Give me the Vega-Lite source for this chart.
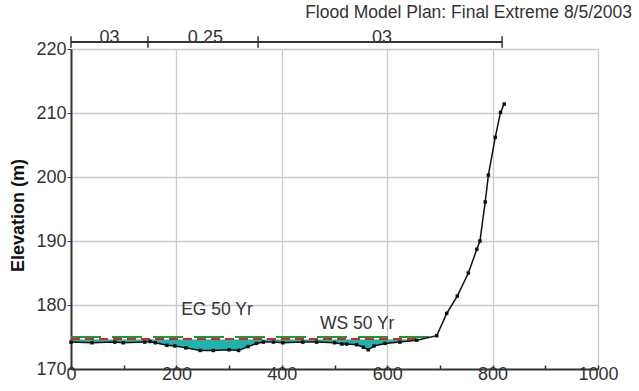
{
  "$schema": "https://vega.github.io/schema/vega-lite/v6.json",
  "width": 527,
  "height": 320,
  "autosize": "none",
  "padding": {"left": 71, "top": 49, "right": 41, "bottom": 22},
  "background": "white",
  "config": {
    "font": "Liberation Sans",
    "view": {"stroke": null}
  },
  "title": {
    "text": "Flood Model Plan: Final Extreme 8/5/2003",
    "anchor": "end",
    "frame": "group",
    "fontSize": 17.5,
    "fontWeight": "normal",
    "color": "#333333",
    "font": "Liberation Sans",
    "dx": 34,
    "offset": 8
  },
  "datasets": {
    "ground": [
      {"x": 0, "y": 174.2, "ws": 174.6},
      {"x": 40, "y": 174.1, "ws": 174.6},
      {"x": 83, "y": 174.2, "ws": 174.6},
      {"x": 99, "y": 174.1, "ws": 174.6},
      {"x": 140, "y": 174.2, "ws": 174.6},
      {"x": 150, "y": 174.3, "ws": 174.6},
      {"x": 160, "y": 174.1, "ws": 174.6},
      {"x": 182, "y": 173.7, "ws": 174.6},
      {"x": 197, "y": 173.6, "ws": 174.6},
      {"x": 218, "y": 173.3, "ws": 174.6},
      {"x": 245, "y": 172.9, "ws": 174.6},
      {"x": 270, "y": 172.9, "ws": 174.6},
      {"x": 300, "y": 173.0, "ws": 174.6},
      {"x": 318, "y": 172.9, "ws": 174.6},
      {"x": 336, "y": 173.5, "ws": 174.6},
      {"x": 352, "y": 174.0, "ws": 174.6},
      {"x": 365, "y": 174.2, "ws": 174.6},
      {"x": 384, "y": 174.2, "ws": 174.6},
      {"x": 402, "y": 174.1, "ws": 174.6},
      {"x": 440, "y": 174.2, "ws": 174.6},
      {"x": 466, "y": 174.2, "ws": 174.6},
      {"x": 500, "y": 174.1, "ws": 174.6},
      {"x": 514, "y": 173.9, "ws": 174.6},
      {"x": 523, "y": 173.9, "ws": 174.6},
      {"x": 542, "y": 173.8, "ws": 174.6},
      {"x": 555, "y": 173.4, "ws": 174.6},
      {"x": 564, "y": 173.0, "ws": 174.6},
      {"x": 575, "y": 173.6, "ws": 174.6},
      {"x": 596, "y": 174.0, "ws": 174.6},
      {"x": 624, "y": 174.2, "ws": 174.6},
      {"x": 656, "y": 174.5, "ws": 174.6},
      {"x": 694, "y": 175.2},
      {"x": 713, "y": 178.7},
      {"x": 733, "y": 181.4},
      {"x": 754, "y": 185.0},
      {"x": 770, "y": 188.7},
      {"x": 776, "y": 190.0},
      {"x": 786, "y": 196.1},
      {"x": 792, "y": 200.3},
      {"x": 805, "y": 206.2},
      {"x": 815, "y": 210.1},
      {"x": 822, "y": 211.4}
    ],
    "eg": [{"x": 0, "y": 175.0}, {"x": 690, "y": 175.0}],
    "wsl": [{"x": 0, "y": 174.7}, {"x": 660, "y": 174.7}],
    "nline": [{"x": 0, "x2": 818, "y": 221.1}],
    "nticks": [
      {"x": 0, "y": 220.2, "y2": 222.0},
      {"x": 146, "y": 220.2, "y2": 222.0},
      {"x": 355, "y": 220.2, "y2": 222.0},
      {"x": 818, "y": 220.2, "y2": 222.0}
    ],
    "nlabels": [
      {"x": 73, "y": 221.7, "label": "03"},
      {"x": 255, "y": 221.7, "label": "0.25"},
      {"x": 590, "y": 221.7, "label": "03"}
    ],
    "notes": [
      {"x": 277, "y": 179.2, "label": "EG 50 Yr"},
      {"x": 543, "y": 177.1, "label": "WS 50 Yr"}
    ]
  },
  "encoding": {
    "x": {
      "field": "x",
      "type": "quantitative",
      "scale": {"domain": [0, 1000], "nice": false, "zero": false},
      "axis": {
        "title": null,
        "values": [0, 100, 200, 300, 400, 500, 600, 700, 800, 900, 1000],
        "labelExpr": "datum.value % 200 == 0 ? datum.label : ''",
        "format": "d",
        "labelFontSize": 18,
        "labelColor": "#333333",
        "labelPadding": 0,
        "labelFlush": false,
        "tickSize": -4,
        "tickColor": "#333333",
        "tickWidth": 1.5,
        "domainColor": "#333333",
        "domainWidth": 2,
        "grid": true,
        "gridColor": "#c7cad2",
        "gridWidth": 1.3,
        "gridOpacity": {"condition": {"test": "datum.value % 200 != 0 || datum.value == 0", "value": 0}, "value": 1}
      }
    },
    "y": {
      "field": "y",
      "type": "quantitative",
      "scale": {"domain": [170, 220], "nice": false, "zero": false},
      "axis": {
        "title": "Elevation (m)",
        "titleFontSize": 18,
        "titleFontWeight": "bold",
        "titleColor": "#111111",
        "titlePadding": 8,
        "titleY": 166,
        "values": [170, 180, 190, 200, 210, 220],
        "labelFontSize": 18,
        "labelColor": "#333333",
        "labelPadding": 1,
        "labelFlush": false,
        "tickSize": 4,
        "tickColor": "#333333",
        "domainColor": "#333333",
        "domainWidth": 2,
        "grid": true,
        "gridColor": "#c7cad2",
        "gridWidth": 1.3,
        "gridOpacity": {"condition": {"test": "datum.value == 170", "value": 0}, "value": 1}
      }
    }
  },
  "layer": [
    {
      "data": {"name": "ground"},
      "transform": [{"filter": "isValid(datum.ws)"}],
      "mark": {"type": "area", "color": "#1fb3ad", "opacity": 1},
      "encoding": {"y": {"field": "ws", "type": "quantitative"}, "y2": {"field": "y"}}
    },
    {
      "data": {"name": "eg"},
      "mark": {"type": "line", "color": "#1a9a3a", "strokeWidth": 2, "strokeDash": [30, 11]},
      "encoding": {}
    },
    {
      "data": {"name": "wsl"},
      "mark": {"type": "line", "color": "#d9261c", "strokeWidth": 2, "strokeDash": [9, 5]},
      "encoding": {}
    },
    {
      "data": {"name": "ground"},
      "mark": {"type": "line", "color": "#111111", "strokeWidth": 1.5, "point": {"shape": "square", "filled": true, "size": 12, "color": "#111111"}},
      "encoding": {}
    },
    {
      "data": {"name": "nline"},
      "mark": {"type": "rule", "color": "#333333", "strokeWidth": 2},
      "encoding": {"x2": {"field": "x2"}}
    },
    {
      "data": {"name": "nticks"},
      "mark": {"type": "rule", "color": "#333333", "strokeWidth": 1.5},
      "encoding": {"y2": {"field": "y2"}}
    },
    {
      "data": {"name": "nlabels"},
      "mark": {"type": "text", "fontSize": 18, "color": "#333333", "baseline": "middle"},
      "encoding": {"text": {"field": "label"}}
    },
    {
      "data": {"name": "notes"},
      "mark": {"type": "text", "fontSize": 17.5, "color": "#333333", "baseline": "middle"},
      "encoding": {"text": {"field": "label"}}
    }
  ]
}
